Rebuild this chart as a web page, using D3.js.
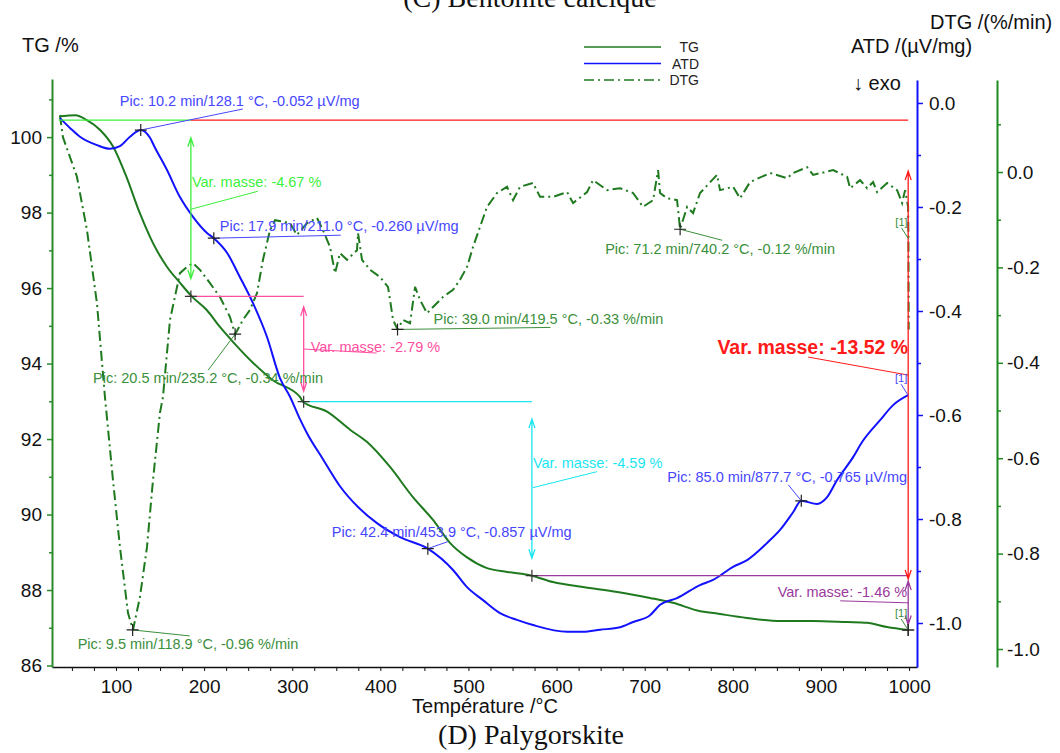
<!DOCTYPE html>
<html><head><meta charset="utf-8">
<script src="https://cdn.jsdelivr.net/npm/d3@7"></script>
<style>
html,body{margin:0;padding:0;background:#fff;}
svg{display:block;font-family:"Liberation Sans",Arial,sans-serif;}
</style></head><body>
<svg id="chart" width="1060" height="753"></svg>
<script>
// ---------------- DATA ----------------
const tgTemp = [36,54,67,82,97,112,127,142,158,173,186,203,218,233,256,278,309,312,340,366,385,411,437,460,479,498,521,544,572,596,630,669,706,732,763,778,816,854,891,930,952,975,999];
const tgValues = [100.55,100.58,100.45,100.19,99.74,98.94,97.99,97.19,96.56,96.13,95.78,95.42,94.97,94.57,94.01,93.56,93.11,92.99,92.72,92.24,91.92,91.26,90.46,89.85,89.25,88.87,88.58,88.48,88.38,88.21,88.08,87.95,87.79,87.66,87.44,87.39,87.26,87.18,87.18,87.15,87.13,87.02,86.94];

const atdTemp = [36.4,47.8,59.1,78.4,93.2,104.5,115.9,128.1,138.6,144.0,157.9,172.6,187.4,203.3,211.0,226.0,240.7,255.5,271.4,286.1,297.5,308.8,316.8,334.9,354.2,374.7,396.2,422.3,453.9,482.5,498.4,516.5,535.8,555.1,573.3,611.9,630.0,649.3,672.0,686.8,706.1,717.4,736.7,762.8,777.6,800.3,816.2,838.9,853.6,868.4,877.7,895.6,907.0,918.3,936.5,946.7,967.1,981.9,998.9];
const atdValues = [-0.029,-0.048,-0.065,-0.081,-0.088,-0.083,-0.065,-0.052,-0.067,-0.085,-0.129,-0.181,-0.219,-0.250,-0.260,-0.288,-0.335,-0.385,-0.450,-0.529,-0.565,-0.608,-0.635,-0.685,-0.737,-0.777,-0.808,-0.835,-0.857,-0.898,-0.931,-0.956,-0.981,-0.994,-1.004,-1.017,-1.017,-1.013,-1.008,-0.998,-0.985,-0.965,-0.952,-0.927,-0.917,-0.892,-0.879,-0.846,-0.821,-0.787,-0.765,-0.771,-0.758,-0.725,-0.681,-0.652,-0.610,-0.581,-0.562];

const dtgTemp = [36.4,39.8,55.7,67.1,78.4,87.5,96.6,104.5,113.6,119.3,127.2,135.2,142.0,149.9,153.3,161.3,172.6,180.6,187.4,195.3,206.7,218.0,229.4,235.2,244.1,252.1,260.0,266.8,274.8,280.5,297.5,305.4,316.8,328.1,334.9,342.9,348.6,354.2,362.2,373.5,374.7,379.2,388.3,399.6,408.7,411.0,414.4,419.5,425.7,433.7,439.4,445.0,453.0,459.8,471.1,482.5,490.4,498.4,505.2,513.1,521.1,532.4,543.8,550.6,558.5,573.3,581.2,596.0,611.9,618.7,634.6,641.4,657.3,672.0,686.8,698.1,709.5,715.2,717.4,725.4,736.7,740.2,748.1,754.9,762.8,782.1,785.5,800.3,808.2,819.6,842.3,861.6,868.4,884.3,891.1,913.8,929.7,933.1,944.4,952.4,959.2,963.7,975.1,986.4,992.1,995.5,998.9,999.3,999.6];
const dtgValues = [0.119,0.073,-0.010,-0.122,-0.275,-0.472,-0.646,-0.786,-0.924,-0.960,-0.891,-0.786,-0.646,-0.505,-0.472,-0.310,-0.212,-0.199,-0.191,-0.205,-0.233,-0.262,-0.304,-0.340,-0.310,-0.289,-0.254,-0.184,-0.122,-0.101,-0.107,-0.132,-0.107,-0.096,-0.122,-0.157,-0.212,-0.170,-0.184,-0.164,-0.128,-0.184,-0.205,-0.220,-0.241,-0.268,-0.310,-0.330,-0.310,-0.317,-0.241,-0.268,-0.296,-0.283,-0.262,-0.247,-0.226,-0.199,-0.157,-0.115,-0.073,-0.044,-0.031,-0.059,-0.031,-0.023,-0.052,-0.052,-0.042,-0.065,-0.042,-0.017,-0.038,-0.034,-0.044,-0.073,-0.059,0.004,-0.044,-0.055,-0.059,-0.120,-0.073,-0.086,-0.044,-0.006,-0.038,-0.031,-0.055,-0.021,-0.002,-0.013,-0.002,0.010,-0.006,0.004,-0.010,-0.034,-0.017,-0.034,-0.021,-0.042,-0.023,-0.038,-0.065,-0.038,-0.073,-0.14,-0.33];

// tick labels
const xTickLabels = [100,200,300,400,500,600,700,800,900,1000];
const tgTickLabels = [86,88,90,92,94,96,98,100];
const atdTickLabels = [0.0,-0.2,-0.4,-0.6,-0.8,-1.0];
const dtgTickLabels = [0.0,-0.2,-0.4,-0.6,-0.8,-1.0];

// ATD peaks
const atdPeakTemp = [128.1,211.0,453.9,877.7];
const atdPeakValue = [-0.052,-0.260,-0.857,-0.765];
const atdPeakLabel = ["Pic: 10.2 min/128.1 °C, -0.052 µV/mg","Pic: 17.9 min/211.0 °C, -0.260 µV/mg","Pic: 42.4 min/453.9 °C, -0.857 µV/mg","Pic: 85.0 min/877.7 °C, -0.765 µV/mg"];
// DTG peaks
const dtgPeakTemp = [118.9,235.2,419.5,740.2];
const dtgPeakValue = [-0.96,-0.34,-0.33,-0.12];
const dtgPeakLabel = ["Pic: 9.5 min/118.9 °C, -0.96 %/min","Pic: 20.5 min/235.2 °C, -0.34 %/min","Pic: 39.0 min/419.5 °C, -0.33 %/min","Pic: 71.2 min/740.2 °C, -0.12 %/min"];

// mass change steps (TG)
const stepStartTemp = [35,181,312,572];
const stepEndTemp = [185,313,572,999];
const stepTopTG = [100.45,95.78,92.99,88.38];
const stepBottomTG = [95.78,92.99,88.38,86.94];
const stepLabel = ["Var. masse: -4.67 %","Var. masse: -2.79 %","Var. masse: -4.59 %","Var. masse: -1.46 %"];
const totalStep = {t0:185, t1:999, top:100.45, bottom:86.94, label:"Var. masse: -13.52 %"};

// ---------------- LAYOUT ----------------
const C = {
  tg:"#1f7a1f", dtg:"#1f7a1f", atd:"#1212ff",
  atdText:"#4646ff", dtgText:"#3b8f3b",
  steps:["#3cf03c","#ff4fa0","#19e6f0","#9a3a9a"], red:"#ff1a1a",
  axisTG:"#2a8a2a", axisDTG:"#1f8a1f", axisATD:"#1212ff"
};
const atdLayout = [ {dx:-21,dy:-29,lx:102,ly:-21}, {dx:6,dy:-12,lx:127,ly:-3}, {dx:-96,dy:-17,lx:20,ly:-7}, {dx:-134,dy:-24,lx:-13,ly:-16} ];
const dtgLayout = [ {dx:-55,dy:14,lx:57,ly:6}, {dx:-142,dy:44,lx:-27,ly:36}, {dx:36,dy:-10,lx:153,ly:-2}, {dx:-75,dy:20,lx:42,ly:11} ];
const stepLayout = [ {anchor:"start",dx:1,dy:-26,l0:[0,1],l1:[67,-17]}, {anchor:"start",dx:7,dy:-2,l0:[0,0],l1:[73,4]}, {anchor:"start",dx:1,dy:-26,l0:[1,-1],l1:[65,-17]}, {anchor:"end",dx:-1,dy:-11,l0:[0,0],l1:[-68,-2]} ];

const svg = d3.select("#chart");
const x = d3.scaleLinear().domain([27.4,1009]).range([52,917]);
const yTG = d3.scaleLinear().domain([85.96,101.54]).range([667,79]);
const yATD = d3.scaleLinear().domain([-1.0846,0.0442]).range([667,80]);
const yDTG = d3.scaleLinear().domain([-1.0377,0.1929]).range([667,80]);
const fmt1 = d => (Math.abs(d)<1e-9?0:d).toFixed(1);

function styleAxis(g,color,fs){
  g.select(".domain").attr("stroke",color).attr("stroke-width",2);
  g.selectAll(".tick line").attr("stroke",color).attr("stroke-width",1.5);
  g.selectAll(".tick text").attr("fill","#111").style("font-size",fs+"px").style("font-family","Liberation Sans, Arial, sans-serif");
}

// X axis
const gx = svg.append("g").attr("transform","translate(0,667)")
  .call(d3.axisBottom(x).tickValues(d3.range(50,1001,25)).tickSize(4).tickSizeOuter(0).tickPadding(9)
    .tickFormat(d => xTickLabels.includes(d) ? d : ""));
styleAxis(gx,"#111",19);
gx.select(".domain").attr("stroke-width",1.5);
gx.selectAll(".tick line").attr("stroke-width",1);

// TG axis
const gtgMinor = svg.append("g").attr("transform","translate(52,0)")
  .call(d3.axisLeft(yTG).tickValues(d3.range(87,101.5,2)).tickSize(3).tickFormat(""));
gtgMinor.select(".domain").remove();
gtgMinor.selectAll(".tick line").attr("stroke",C.axisTG).attr("stroke-width",1.5);
const gtg = svg.append("g").attr("transform","translate(52,0)")
  .call(d3.axisLeft(yTG).tickValues(tgTickLabels).tickSize(5).tickSizeOuter(0).tickPadding(5).tickFormat(d3.format("d")));
styleAxis(gtg,C.axisTG,19);

// ATD axis
const gatdMinor = svg.append("g").attr("transform","translate(917,0)")
  .call(d3.axisRight(yATD).tickValues([-0.1,-0.3,-0.5,-0.7,-0.9]).tickSize(4).tickFormat(""));
gatdMinor.select(".domain").remove();
gatdMinor.selectAll(".tick line").attr("stroke",C.axisATD).attr("stroke-width",1.5);
const gatd = svg.append("g").attr("transform","translate(917,0)")
  .call(d3.axisRight(yATD).tickValues(atdTickLabels).tickSize(6).tickSizeOuter(0).tickPadding(6).tickFormat(fmt1));
styleAxis(gatd,C.axisATD,19);

// DTG axis
const gdtgMinor = svg.append("g").attr("transform","translate(997,0)")
  .call(d3.axisRight(yDTG).tickValues([0.1,-0.1,-0.3,-0.5,-0.7,-0.9]).tickSize(4).tickFormat(""));
gdtgMinor.select(".domain").remove();
gdtgMinor.selectAll(".tick line").attr("stroke",C.axisDTG).attr("stroke-width",1.5);
const gdtg = svg.append("g").attr("transform","translate(997,0)")
  .call(d3.axisRight(yDTG).tickValues(dtgTickLabels).tickSize(6).tickSizeOuter(0).tickPadding(4).tickFormat(fmt1));
styleAxis(gdtg,C.axisDTG,19);

// Axis titles
const txt = (xx,yy,s,opt={}) => svg.append("text").attr("x",xx).attr("y",yy).text(s)
  .attr("fill",opt.fill||"#111").style("font-size",(opt.fs||20)+"px")
  .style("font-family",opt.ff||"Liberation Sans, Arial, sans-serif")
  .style("font-weight",opt.fw||"normal").attr("text-anchor",opt.anchor||"start")
  .attr("dominant-baseline",opt.db||"central");
txt(22,45,"TG /%");
txt(851,46,"ATD /(µV/mg)");
txt(930,22,"DTG /(%/min)");
txt(853,83,"↓ exo");
txt(485,713,"Température /°C",{anchor:"middle",db:"auto"});
txt(530,7,"(C) Bentonite calcique",{anchor:"middle",ff:"Liberation Serif, Times New Roman, serif",fs:28,db:"auto"});
txt(531,744,"(D) Palygorskite",{anchor:"middle",ff:"Liberation Serif, Times New Roman, serif",fs:28,db:"auto"});

// Legend
const legendNames = ["TG","ATD","DTG"];
const legendColors = [C.tg,C.atd,C.dtg];
const legendDash = [null,null,"10,4,2,4"];
legendNames.forEach((n,i)=>{
  const yy = 47 + i*16.5;
  svg.append("line").attr("x1",584).attr("x2",661).attr("y1",yy).attr("y2",yy)
    .attr("stroke",legendColors[i]).attr("stroke-width",1.3).attr("stroke-dasharray",legendDash[i]);
  txt(699,yy,n,{fs:14,anchor:"end",fill:"#222"});
});

// Curves
const zip = (a,b) => a.map((t,i)=>({t,v:b[i]}));
const tgData = zip(tgTemp,tgValues), atdData = zip(atdTemp,atdValues), dtgData = zip(dtgTemp,dtgValues);
svg.append("path").datum(dtgData).attr("fill","none").attr("stroke",C.dtg).attr("stroke-width",2)
  .attr("stroke-dasharray","10,4,2,4")
  .attr("d",d3.line().x(d=>x(d.t)).y(d=>yDTG(d.v)).curve(d3.curveLinear));
svg.append("path").datum(tgData).attr("fill","none").attr("stroke",C.tg).attr("stroke-width",2)
  .attr("d",d3.line().x(d=>x(d.t)).y(d=>yTG(d.v)).curve(d3.curveMonotoneX));
svg.append("path").datum(atdData).attr("fill","none").attr("stroke",C.atd).attr("stroke-width",2)
  .attr("d",d3.line().x(d=>x(d.t)).y(d=>yATD(d.v)).curve(d3.curveMonotoneX));

// helpers
function cross(px,py,col){
  svg.append("path").attr("d",`M${px-6},${py}H${px+6}M${px},${py-6}V${py+6}`)
    .attr("stroke",col||"#222").attr("stroke-width",1.2).attr("fill","none");
}
function vArrow(px,yTop,yBot,col){
  const inset = (yBot-yTop)*0.1;
  const a = yTop+inset, b = yBot-inset;
  svg.append("path").attr("d",`M${px},${a}V${b}M${px-3},${a+9}L${px},${a}L${px+3},${a+9}M${px-3},${b-9}L${px},${b}L${px+3},${b-9}`)
    .attr("stroke",col).attr("stroke-width",1.3).attr("fill","none");
}
function seg(x1,y1,x2,y2,col,w){
  svg.append("line").attr("x1",x1).attr("y1",y1).attr("x2",x2).attr("y2",y2).attr("stroke",col).attr("stroke-width",w||1);
}

// Mass-change annotations
seg(x(totalStep.t0),yTG(totalStep.top),x(totalStep.t1),yTG(totalStep.top),C.red,1.3);
stepStartTemp.forEach((t0,i)=>{
  const col = C.steps[i];
  const ax = x(stepEndTemp[i]), yT = yTG(stepTopTG[i]), yB = yTG(stepBottomTG[i]);
  seg(x(t0),yT,ax,yT,col,1.3);
  vArrow(ax,yT,yB,col);
});
vArrow(x(totalStep.t1),yTG(totalStep.top),yTG(totalStep.bottom),C.red);
stepStartTemp.forEach((t0,i)=>{
  const col = C.steps[i], L = stepLayout[i];
  const ax = x(stepEndTemp[i]), mid = (yTG(stepTopTG[i])+yTG(stepBottomTG[i]))/2;
  seg(ax+L.l0[0],mid+L.l0[1],ax+L.l1[0],mid+L.l1[1],col,1);
  txt(ax+L.dx,mid+L.dy,stepLabel[i],{fs:14.5,fill:col,anchor:L.anchor});
  cross(ax,yTG(stepBottomTG[i]),"#333");
});
{
  const ax = x(totalStep.t1), mid = (yTG(totalStep.top)+yTG(totalStep.bottom))/2;
  seg(ax,mid,ax-100,mid-18,C.red,1);
  txt(ax,mid-28,totalStep.label,{fs:19.5,fw:"bold",fill:C.red,anchor:"end"});
}

// Peak annotations
atdPeakTemp.forEach((t,i)=>{
  const px = x(t), py = yATD(atdPeakValue[i]), L = atdLayout[i];
  seg(px,py,px+L.lx,py+L.ly,C.atdText,1);
  cross(px,py);
  txt(px+L.dx,py+L.dy,atdPeakLabel[i],{fs:14.5,fill:C.atdText});
});
dtgPeakTemp.forEach((t,i)=>{
  const px = x(t), py = yDTG(dtgPeakValue[i]), L = dtgLayout[i];
  seg(px,py,px+L.lx,py+L.ly,C.dtgText,1);
  cross(px,py);
  txt(px+L.dx,py+L.dy,dtgPeakLabel[i],{fs:14.5,fill:C.dtgText});
});

// [1] end labels
const endMarks = [
  {px:x(dtgTemp[dtgTemp.length-2]), py:yDTG(dtgValues[dtgValues.length-2]), col:C.dtgText},
  {px:x(atdTemp[atdTemp.length-1]), py:yATD(atdValues[atdValues.length-1]), col:C.atdText},
  {px:x(tgTemp[tgTemp.length-1]), py:yTG(tgValues[tgValues.length-1]), col:C.dtgText}
];
endMarks.forEach(m=>{
  seg(m.px-7,m.py-11,m.px,m.py,m.col,1);
  txt(m.px-7,m.py-17,"[1]",{fs:11,fill:m.col,anchor:"middle"});
});
cross(x(tgTemp[tgTemp.length-1]),yTG(tgValues[tgValues.length-1]),"#222");
</script>
</body></html>
